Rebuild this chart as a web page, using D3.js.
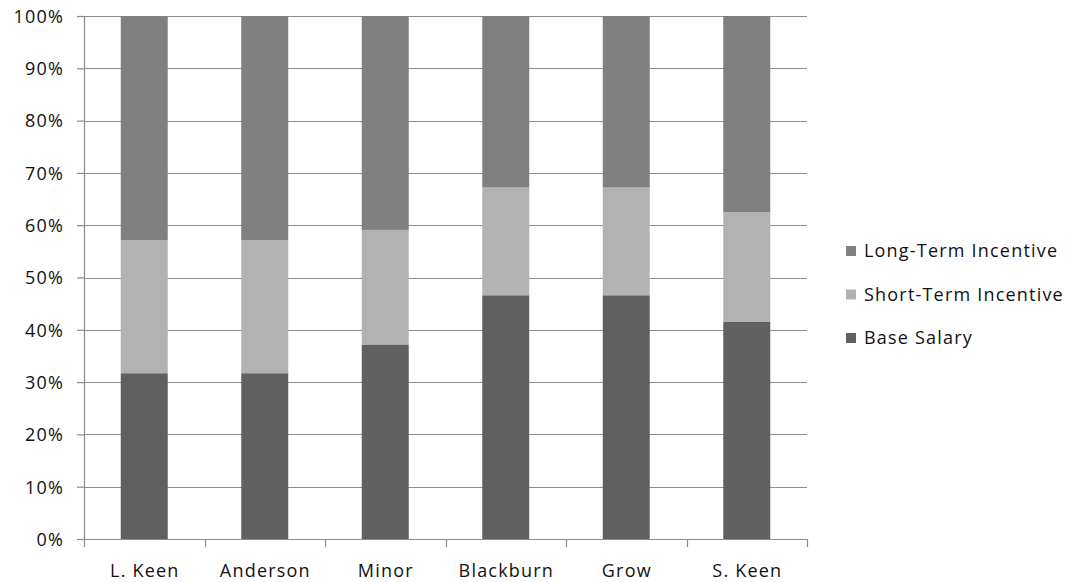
<!DOCTYPE html>
<html>
<head>
<meta charset="utf-8">
<script src="https://cdn.jsdelivr.net/npm/d3@7"></script>
<style>
  html, body { margin: 0; padding: 0; background: #fff; }
  svg text { font-family: "Open Sans", sans-serif; fill: #111; letter-spacing: 1.2px; }
</style>
</head>
<body>
<svg id="chart" width="1067" height="582"></svg>
<script>
// Compensation mix by executive (percent of total)
const executives = ["L. Keen", "Anderson", "Minor", "Blackburn", "Grow", "S. Keen"];
const baseSalary = [31.7, 31.7, 37.2, 46.6, 46.6, 41.5];
const shortTermIncentive = [25.4, 25.4, 21.9, 20.6, 20.6, 21.0];
const longTermIncentive = [42.9, 42.9, 40.9, 32.8, 32.8, 37.5];
const yTicks = [0, 10, 20, 30, 40, 50, 60, 70, 80, 90, 100];

const seriesDefs = [
  { key: "base", label: "Base Salary", values: baseSalary, color: "#606060" },
  { key: "sti", label: "Short-Term Incentive", values: shortTermIncentive, color: "#b2b2b2" },
  { key: "lti", label: "Long-Term Incentive", values: longTermIncentive, color: "#808080" }
];

const rows = executives.map((name, i) => {
  const r = { name };
  seriesDefs.forEach(s => { r[s.key] = s.values[i]; });
  return r;
});

const svg = d3.select("#chart");
const margin = { left: 84, top: 16, right: 1067 - 807, bottom: 582 - 539 };
const width = 1067 - margin.left - margin.right;
const height = 582 - margin.top - margin.bottom;
const fontSize = "18px";

const g = svg.append("g").attr("transform", `translate(${margin.left},${margin.top})`);

const x = d3.scaleBand().domain(executives).range([0, width]).paddingInner(0.61).paddingOuter(0.305);
const y = d3.scaleLinear().domain([0, 100]).range([height, 0]);

// Horizontal gridlines
g.append("g").selectAll("line").data(yTicks.filter(t => t > 0)).join("line")
  .attr("x1", 0).attr("x2", width)
  .attr("y1", d => Math.round(y(d)) + 0.5).attr("y2", d => Math.round(y(d)) + 0.5)
  .attr("stroke", "#8c8c8c").attr("stroke-width", 1.2);

// Stacked bars
const stack = d3.stack().keys(seriesDefs.map(s => s.key));
const layers = stack(rows);
g.append("g").selectAll("g").data(layers).join("g")
  .attr("fill", (d, i) => seriesDefs[i].color)
  .selectAll("rect").data(d => d).join("rect")
  .attr("x", d => x(d.data.name))
  .attr("width", x.bandwidth())
  .attr("y", d => y(d[1]))
  .attr("height", d => y(d[0]) - y(d[1]));

// Y axis
const yAxis = g.append("g")
  .call(d3.axisLeft(y).tickValues(yTicks).tickFormat(d => d + "%").tickSize(7).tickPadding(13));
yAxis.select(".domain").attr("stroke", "#8c8c8c").attr("stroke-width", 1.2).attr("d", `M0.5,0V${height}`);
yAxis.selectAll(".tick line").attr("stroke", "#8c8c8c").attr("stroke-width", 1.2);
yAxis.selectAll(".tick text").style("font-size", fontSize).attr("dy", "0.35em");

// X axis with ticks at band boundaries
const xAxisG = g.append("g").attr("transform", `translate(0,${height})`);
xAxisG.append("line").attr("x1", 0).attr("x2", width).attr("y1", 0.5).attr("y2", 0.5)
  .attr("stroke", "#8c8c8c").attr("stroke-width", 1.2);
const step = x.step();
const boundaries = d3.range(executives.length + 1).map(i => x(executives[0]) - x.paddingOuter() * step + i * step);
xAxisG.selectAll("line.b").data(boundaries).join("line").attr("class", "b")
  .attr("x1", d => Math.round(d) + 0.5).attr("x2", d => Math.round(d) + 0.5)
  .attr("y1", 0).attr("y2", 8)
  .attr("stroke", "#8c8c8c").attr("stroke-width", 1.2);
xAxisG.selectAll("text").data(executives).join("text")
  .attr("x", d => x(d) + x.bandwidth() / 2 + 0.6)
  .attr("y", 38)
  .attr("text-anchor", "middle")
  .style("font-size", fontSize)
  .text(d => d);

// Legend (top to bottom: Long-Term, Short-Term, Base)
const legend = svg.append("g").attr("transform", "translate(846,251)");
const legendItems = seriesDefs.slice().reverse();
const li = legend.selectAll("g").data(legendItems).join("g")
  .attr("transform", (d, i) => `translate(0,${i * 43.5})`);
li.append("rect").attr("x", 0).attr("y", -5).attr("width", 10).attr("height", 10).attr("fill", d => d.color);
li.append("text").attr("x", 18).attr("y", 0).attr("dy", "0.35em")
  .style("font-size", fontSize).text(d => d.label);
</script>
</body>
</html>
